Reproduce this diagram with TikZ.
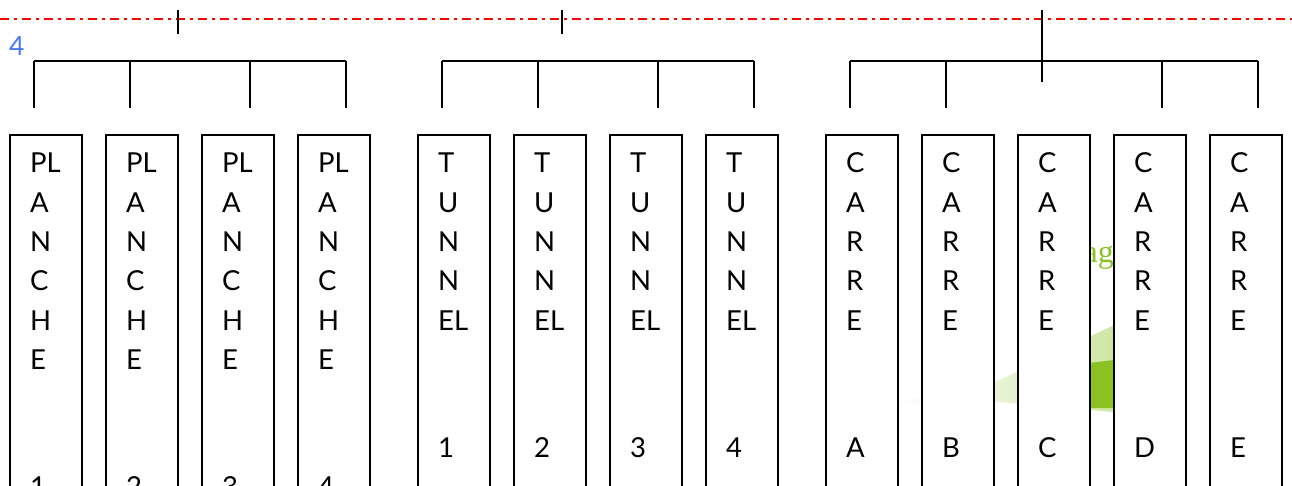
\documentclass[tikz,border=0pt]{standalone}
\usepackage{fontspec}
\setmainfont{Lato}
\newfontfamily\greenserif{Liberation Serif}
\usetikzlibrary{calc}
\definecolor{refred}{RGB}{255,0,0}
\definecolor{refblue}{RGB}{70,120,255}
\definecolor{refgreen}{RGB}{138,194,34}
\definecolor{palegreen}{RGB}{208,230,165}
\tikzset{
  colbox/.style={draw=black, line width=1.4pt, fill=white, minimum width=72pt,
    minimum height=380pt, inner sep=0pt, outer sep=0pt, anchor=north west},
  lbl/.style={anchor=base west, inner sep=0pt, font=\fontsize{27.5}{33}\selectfont},
  conn/.style={line width=1.8pt, black},
  axisline/.style={draw=refred, line width=1.4pt, dash pattern=on 9pt off 5pt on 2.5pt off 5.5pt},
}
\begin{document}
\begin{tikzpicture}[x=1pt,y=-1pt]
\useasboundingbox (0,0) rectangle (1292,486);

% red dash-dot axis
\coordinate (rl) at (0,19);
\coordinate (rr) at (1292,19);
\draw[axisline] (rl) -- (rr);

% ticks on the axis
\coordinate (tk1a) at (178,10);  \coordinate (tk1b) at (178,34);
\coordinate (tk2a) at (562,10);  \coordinate (tk2b) at (562,34);
\coordinate (tk3a) at (1042,10); \coordinate (tk3b) at (1042,82);
\draw[conn] (tk1a) -- (tk1b);
\draw[conn] (tk2a) -- (tk2b);
\draw[conn] (tk3a) -- (tk3b);

% blue label
\node[anchor=base west, inner sep=0pt, text=refblue, font=\fontsize{26.5}{30}\selectfont] (four) at (9,56) {4};

% brackets
\foreach \x in {34,130,250,346,442,538,658,754,850,946,1162,1258}{
  \coordinate (u\x) at (\x,61);
  \coordinate (d\x) at (\x,108);
  \draw[conn] (u\x) -- (d\x);
}
\draw[conn] (u34) -- (u346);
\draw[conn] (u442) -- (u754);
\draw[conn] (u850) -- (u1258);

% green background fragments
\shade[left color=white, right color=palegreen] (890,404) -- (1000,380) -- (1114,325) -- (1114,412) -- (1000,402) -- cycle;
\fill[refgreen] (1080,364) -- (1114,360) -- (1114,408) -- (1080,408) -- cycle;
\node[anchor=base east, inner sep=0pt, text=refgreen, font=\greenserif\fontsize{32}{36}\selectfont] (ag) at (1114,262) {ag};

% columns
\foreach \nm/\x/\word/\num/\ny in {
  p1/10/{PL,A,N,C,H,E}/1/361, p2/106/{PL,A,N,C,H,E}/2/361,
  p3/202/{PL,A,N,C,H,E}/3/361, p4/298/{PL,A,N,C,H,E}/4/361,
  t1/418/{T,U,N,N,EL}/1/322, t2/514/{T,U,N,N,EL}/2/322,
  t3/610/{T,U,N,N,EL}/3/322, t4/706/{T,U,N,N,EL}/4/322,
  c1/826/{C,A,R,R,E}/A/322, c2/922/{C,A,R,R,E}/B/322,
  c3/1018/{C,A,R,R,E}/C/322, c4/1114/{C,A,R,R,E}/D/322,
  c5/1210/{C,A,R,R,E}/E/322}{
  \node[colbox] (\nm) at (\x,135) {};
  \foreach \t [count=\i] in \word {
    \node[lbl] (\nm-\i) at ($(\nm.north west)+(20,{38+(\i-1)*39.3})$) {\t};
  }
  \node[lbl] (\nm-n) at ($(\nm.north west)+(20,\ny)$) {\num};
}
\end{tikzpicture}
\end{document}
